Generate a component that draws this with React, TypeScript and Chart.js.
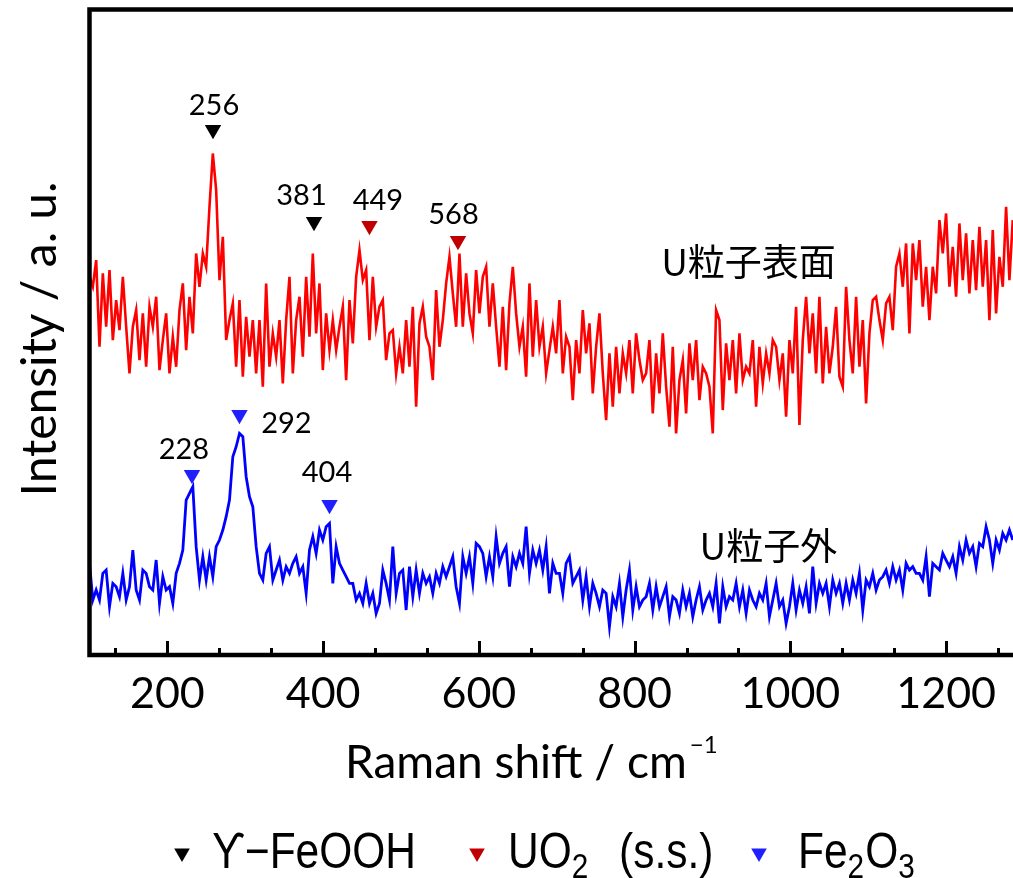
import React, { useEffect, useRef } from 'react';
import { Chart, registerables } from 'chart.js';

Chart.register(...registerables);

// Raman spectra: sampling grid (cm-1)
const SHIFT_START = 100;
const SHIFT_STEP = 4.28;

// U粒子表面 (red) intensities, a.u.
const SURFACE = [
  1135, 1105, 1185, 925, 1145, 985, 1155, 945, 1065, 975,
  1135, 985, 845, 985, 1035, 885, 1025, 865, 1045, 985,
  1075, 855, 945, 1025, 845, 955, 865, 1035, 1115, 915,
  1075, 965, 1205, 1105, 1205, 1165, 1345, 1505, 1395, 1125,
  1255, 945, 1005, 1055, 865, 1065, 835, 1015, 895, 1005,
  845, 1005, 805, 1115, 865, 965, 895, 1005, 815, 1005,
  1135, 845, 1005, 1075, 895, 1135, 955, 1205, 965, 1115,
  855, 1025, 915, 1005, 915, 985, 1045, 825, 1065, 935,
  1135, 1215, 1125, 1155, 945, 1135, 985, 1045, 1065, 885,
  965, 975, 845,
  925, 845, 1005, 865, 1045, 745, 995, 1045, 955, 925,
  825, 1095, 925, 1005, 1115, 1195, 1085, 985, 1205, 985,
  1145, 1025, 965, 1155, 1025, 1135, 1165, 985, 1115, 985,
  865, 1045, 855, 1055, 1165, 1025, 925, 985, 835, 1115,
  895, 1065, 925, 985, 845, 915, 985, 905, 1065, 845,
  955, 925, 765, 945, 845, 1035, 905, 995, 785, 925,
  1025, 845, 705, 905, 745, 925, 785, 905, 845, 945,
  785, 965, 885, 825, 845, 945, 725, 905, 785, 965,
  805, 685, 925, 665, 825, 885, 725, 935, 825, 945,
  765, 865, 845,
  805, 665, 1035, 1005, 735, 935, 825, 945, 785, 965,
  825, 865, 845, 945, 745, 925, 815, 905, 845, 945,
  925, 825, 905, 715, 945, 845, 1045, 690, 945, 1075,
  905, 1025, 845, 1075, 815, 985, 845, 925, 1045, 835,
  805, 1105, 945, 845, 1075, 865, 1005, 755, 965, 1065,
  1075, 1005, 945, 1055, 1075, 975, 1165, 1205, 1105, 1235,
  965, 1235, 1125, 1245, 1045, 1165, 1005, 1165, 1085, 1305,
  1205, 1325, 1105, 1225, 1075, 1295, 1125, 1265, 1085, 1245,
  1095, 1285, 1105, 1245, 1005, 1275, 1025, 1195, 1105, 1345,
  1125, 1305,
];

// U粒子外 (blue) intensities, a.u.
const OUTSIDE = [
  275, 165, 195, 165, 245, 255, 145, 215, 205, 175,
  245, 165, 205, 315, 195, 165, 255, 245, 205, 195,
  285, 155, 235, 195, 205, 155, 245, 275, 315, 465,
  485, 505, 325, 225, 295, 225, 295, 235, 325, 345,
  375, 415, 465, 595, 625, 665, 655, 535, 475, 445,
  325, 245, 225, 305, 325, 225, 255, 285, 225, 265,
  245, 275, 295, 245, 265, 185, 315, 355, 305, 375,
  345, 385, 395, 215, 325, 275, 255, 235, 215, 215,
  165, 185, 155, 215, 155, 185, 125, 155, 255, 215,
  165, 325, 185,
  245, 255, 135, 265, 175, 255, 185, 245, 215, 235,
  185, 245, 215, 265, 235, 265, 295, 205, 155, 295,
  245, 295, 215, 335, 325, 305, 235, 295, 235, 355,
  275, 305, 325, 205, 295, 265, 305, 275, 385, 245,
  315, 275, 315, 255, 325, 185, 275, 245, 245, 185,
  275, 295, 215, 235, 255, 165, 235, 145, 215, 185,
  145, 195, 185, 85, 175, 145, 215, 115, 195, 255,
  135, 205, 145, 165, 175, 215, 135, 205, 145, 175,
  205, 115, 175, 165, 125, 195, 145, 185, 115, 165,
  205, 135, 165,
  185, 145, 215, 95, 205, 145, 175, 165, 215, 145,
  195, 125, 195, 165, 145, 185, 165, 215, 115, 165,
  215, 145, 165, 95, 145, 215, 135, 195, 155, 205,
  125, 265, 155, 215, 185, 215, 145, 225, 185, 215,
  155, 215, 165, 225, 185, 245, 135, 225, 205, 245,
  195, 225, 235, 255, 215, 265, 225, 255, 195, 275,
  255, 265, 245, 245, 225, 295, 175, 275, 265, 255,
  305, 285, 265, 295, 245, 325, 285, 345, 305, 325,
  265, 335, 325, 385, 345, 275, 345, 315, 365, 345,
  375, 345,
];

// axes
const X_MIN = 100;
const X_MAX = 1300;
const X_MAJOR = 200;
const X_MINOR = 200 / 3;
const Y_MIN = 0;
const Y_MAX = 1937;

// peak markers (triangles) and their labels
const PEAK_LABELS = ['256', '381', '449', '568', '228', '292', '404'];
const PEAK_PHASE = [0, 0, 1, 1, 2, 2, 2];
const PEAK_MARK_X = [258.6, 388.3, 459.5, 573.2, 231.6, 292.6, 408.2];
const PEAK_MARK_Y = [1576, 1300, 1288, 1243, 541, 721, 451];
const PEAK_LABEL_X = [259.9, 372.2, 470.4, 567.4, 221.3, 352.9, 405.0];
const PEAK_LABEL_Y = [1620, 1350, 1335, 1293, 588, 666, 519];

// phases (legend)
const PHASE_COLORS = ['#000000', '#C00000', '#2020FF'];

// series name labels
const SERIES_NAMES = ['U粒子表面', 'U粒子外'];
const SERIES_NAME_X = [946.2, 971.8];
const SERIES_NAME_Y = [1179, 327];

const CANVAS_W = 1040;
const CANVAS_H = 878;
const PLOT_LEFT = 89.5;
const PLOT_TOP = 9.5;
const PLOT_BOTTOM = 655;
const PLOT_RIGHT = 1024;

const isMultiple = (v: number, step: number) => {
  const q = v / step;
  return Math.abs(q - Math.round(q)) < 1e-6;
};

const drawTri = (ctx: CanvasRenderingContext2D, cx: number, cy: number, r: number, color: string) => {
  ctx.fillStyle = color;
  ctx.beginPath();
  ctx.moveTo(cx - r * 0.866, cy - r / 2);
  ctx.lineTo(cx + r * 0.866, cy - r / 2);
  ctx.lineTo(cx, cy + r);
  ctx.closePath();
  ctx.fill();
};

const NARROW = 0.85;

const decorPlugin = {
  id: 'decor',
  afterDatasetsDraw(chart: any) {
    const ctx: CanvasRenderingContext2D = chart.ctx;
    const { left, top, bottom, right } = chart.chartArea;
    const xs = chart.scales.x;
    const ys = chart.scales.y;
    ctx.save();
    // inward tick marks
    ctx.strokeStyle = '#000';
    ctx.lineWidth = 3;
    xs.ticks.forEach((t: any) => {
      const v = t.value;
      if (!isMultiple(v, X_MINOR)) return;
      const major = isMultiple(v, X_MAJOR);
      const px = Math.round(xs.getPixelForValue(v)) + 0.5;
      ctx.beginPath();
      ctx.moveTo(px, bottom);
      ctx.lineTo(px, bottom - (major ? 14 : 7));
      ctx.stroke();
    });
    // frame (right side lies outside the visible window)
    ctx.lineWidth = 4.5;
    ctx.lineJoin = 'miter';
    ctx.beginPath();
    ctx.moveTo(right + 20, top);
    ctx.lineTo(left, top);
    ctx.lineTo(left, bottom);
    ctx.lineTo(right + 20, bottom);
    ctx.stroke();

    // peak labels
    ctx.fillStyle = '#000';
    ctx.font = '29px Lato';
    ctx.textAlign = 'center';
    ctx.textBaseline = 'alphabetic';
    PEAK_LABELS.forEach((s, i) => {
      ctx.fillText(s, xs.getPixelForValue(PEAK_LABEL_X[i]), ys.getPixelForValue(PEAK_LABEL_Y[i]));
    });

    // series names
    ctx.font = '37px "Noto Sans CJK JP"';
    ctx.textBaseline = 'middle';
    SERIES_NAMES.forEach((s, i) => {
      ctx.fillText(s, xs.getPixelForValue(SERIES_NAME_X[i]), ys.getPixelForValue(SERIES_NAME_Y[i]));
    });

    // axis titles
    ctx.textBaseline = 'alphabetic';
    ctx.textAlign = 'left';
    ctx.font = '46px Lato';
    const xt = 'Raman shift / cm';
    const xtLeft = 345;
    const xtBase = 778;
    ctx.fillText(xt, xtLeft, xtBase);
    const w = ctx.measureText(xt).width;
    ctx.font = '24px Lato';
    ctx.fillText('\u22121', xtLeft + w + 3, xtBase - 25);

    ctx.save();
    ctx.translate(56, 339);
    ctx.rotate(-Math.PI / 2);
    ctx.textAlign = 'center';
    ctx.font = '48px Lato';
    ctx.fillText('Intensity / a. u.', 0, 0);
    ctx.restore();

    // legend
    const legendBase = 868;
    const legendFont = '50px "Liberation Sans"';
    const subFont = '35px "Liberation Sans"';
    const items: { color: string; triX: number; textX: number; parts: [string, number][] }[] = [
      { color: PHASE_COLORS[0], triX: 182, textX: 212, parts: [['\u03D2\u2212FeOOH', 0]] },
      { color: PHASE_COLORS[1], triX: 477, textX: 508, parts: [['UO', 0], ['2', 1], ['\u2002\u2009(s.s.)', 0]] },
      { color: PHASE_COLORS[2], triX: 759, textX: 798, parts: [['Fe', 0], ['2', 1], ['O', 0], ['3', 1]] },
    ];
    items.forEach((it) => {
      drawTri(ctx, it.triX, 853, 9, it.color);
      let x = it.textX;
      ctx.fillStyle = '#000';
      ctx.textAlign = 'left';
      it.parts.forEach(([s, sub]) => {
        ctx.font = sub ? subFont : legendFont;
        ctx.save();
        ctx.translate(x, sub ? legendBase + 10 : legendBase);
        ctx.scale(NARROW, 1);
        ctx.fillText(s, 0, 0);
        ctx.restore();
        x += ctx.measureText(s).width * NARROW + (sub ? 1 : 0);
      });
    });
    ctx.restore();
  },
};

export default function App() {
  const ref = useRef<HTMLCanvasElement | null>(null);
  useEffect(() => {
    if (!ref.current) return;
    const surfaceData = SURFACE.map((y, i) => ({ x: SHIFT_START + i * SHIFT_STEP, y }));
    const outsideData = OUTSIDE.map((y, i) => ({ x: SHIFT_START + i * SHIFT_STEP, y }));
    const markerData = PEAK_MARK_X.map((x, i) => ({ x, y: PEAK_MARK_Y[i] }));
    const chart = new Chart(ref.current, {
      type: 'line',
      data: {
        datasets: [
          {
            label: SERIES_NAMES[0],
            data: surfaceData,
            borderColor: '#FF0000',
            borderWidth: 2.6,
            pointRadius: 0,
            tension: 0,
            order: 3,
          },
          {
            label: SERIES_NAMES[1],
            data: outsideData,
            borderColor: '#0000FF',
            borderWidth: 2.8,
            pointRadius: 0,
            tension: 0,
            order: 2,
          },
          {
            type: 'scatter',
            label: 'peaks',
            data: markerData,
            showLine: false,
            pointStyle: 'triangle',
            pointRotation: 180,
            pointRadius: 9.5,
            pointBorderWidth: 0,
            pointBackgroundColor: PEAK_PHASE.map((p) => PHASE_COLORS[p]),
            order: 1,
          } as any,
        ],
      },
      options: {
        responsive: false,
        animation: false,
        devicePixelRatio: 1,
        layout: { padding: { left: PLOT_LEFT, top: PLOT_TOP, right: CANVAS_W - PLOT_RIGHT, bottom: 0 } },
        plugins: { legend: { display: false }, tooltip: { enabled: false }, title: { display: false } },
        scales: {
          x: {
            type: 'linear',
            min: X_MIN,
            max: X_MAX,
            grid: { display: false, drawTicks: false },
            border: { display: false },
            afterBuildTicks: (s: any) => {
              const ticks = [];
              for (let k = Math.ceil(X_MIN / X_MINOR - 1e-9); k * X_MINOR <= X_MAX + 1e-9; k++) {
                ticks.push({ value: k * X_MINOR });
              }
              s.ticks = ticks;
            },
            ticks: {
              autoSkip: false,
              maxRotation: 0,
              minRotation: 0,
              padding: 13,
              color: '#000',
              font: { family: 'Lato', size: 43 },
              callback: (v: any) => (isMultiple(Number(v), X_MAJOR) ? String(Math.round(Number(v))) : ''),
            },
            afterFit: (s: any) => {
              s.height = CANVAS_H - PLOT_BOTTOM;
            },
          },
          y: {
            type: 'linear',
            display: false,
            min: Y_MIN,
            max: Y_MAX,
          },
        },
      },
      plugins: [decorPlugin],
    });
    return () => chart.destroy();
  }, []);
  return (
    <div style={{ position: 'fixed', left: 0, top: 0, width: 1013, height: 878, overflow: 'hidden', background: '#fff' }}>
      <canvas ref={ref} width={CANVAS_W} height={CANVAS_H} style={{ width: CANVAS_W, height: CANVAS_H, display: 'block' }} />
    </div>
  );
}
